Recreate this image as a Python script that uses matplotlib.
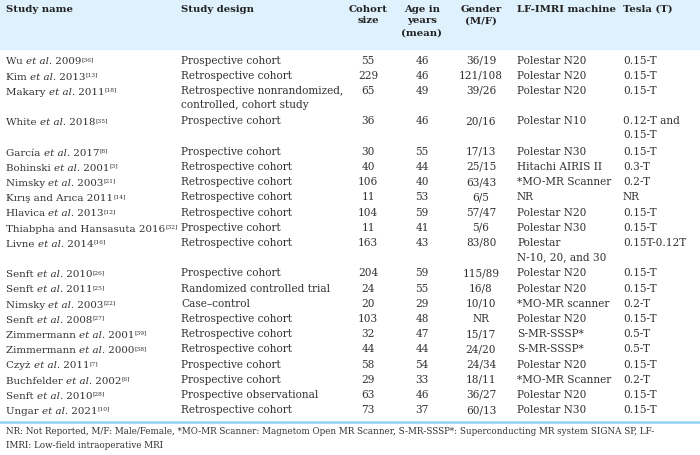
import matplotlib
matplotlib.use("Agg")
import matplotlib.pyplot as plt
from matplotlib.patches import Rectangle

plt.rcParams["font.family"] = ["DejaVu Serif"]

headers = ["Study name", "Study design", "Cohort\nsize", "Age in\nyears\n(mean)",
           "Gender\n(M/F)", "LF-IMRI machine", "Tesla (T)"]

study_names = [
    "Wu et al. 2009", "Kim et al. 2013", "Makary et al. 2011", "White et al. 2018",
    "García et al. 2017", "Bohinski et al. 2001", "Nimsky et al. 2003", "Kırış and Arıca 2011",
    "Hlavica et al. 2013", "Thiabpha and Hansasuta 2016", "Livne et al. 2014", "Senft et al. 2010",
    "Senft et al. 2011", "Nimsky et al. 2003", "Senft et al. 2008", "Zimmermann et al. 2001",
    "Zimmermann et al. 2000", "Czyż et al. 2011", "Buchfelder et al. 2002", "Senft et al. 2010",
    "Ungar et al. 2021",
]
refs = ["[36]", "[13]", "[18]", "[35]", "[8]", "[3]", "[21]", "[14]", "[12]", "[32]", "[16]",
        "[26]", "[25]", "[22]", "[27]", "[39]", "[38]", "[7]", "[6]", "[28]", "[10]"]
designs = [
    "Prospective cohort", "Retrospective cohort",
    "Retrospective nonrandomized,\ncontrolled, cohort study",
    "Prospective cohort", "Prospective cohort", "Retrospective cohort", "Retrospective cohort",
    "Retrospective cohort", "Retrospective cohort", "Prospective cohort", "Retrospective cohort",
    "Prospective cohort", "Randomized controlled trial", "Case\u2013control", "Retrospective cohort",
    "Retrospective cohort", "Retrospective cohort", "Prospective cohort", "Prospective cohort",
    "Prospective observational", "Retrospective cohort",
]
cohort = ["55", "229", "65", "36", "30", "40", "106", "11", "104", "11", "163", "204", "24",
          "20", "103", "32", "44", "58", "29", "63", "73"]
age = ["46", "46", "49", "46", "55", "44", "40", "53", "59", "41", "43", "59", "55", "29",
       "48", "47", "44", "54", "33", "46", "37"]
gender = ["36/19", "121/108", "39/26", "20/16", "17/13", "25/15", "63/43", "6/5", "57/47",
          "5/6", "83/80", "115/89", "16/8", "10/10", "NR", "15/17", "24/20", "24/34", "18/11",
          "36/27", "60/13"]
machine = ["Polestar N20", "Polestar N20", "Polestar N20", "Polestar N10", "Polestar N30",
           "Hitachi AIRIS II", "*MO-MR Scanner", "NR", "Polestar N20", "Polestar N30",
           "Polestar\nN-10, 20, and 30", "Polestar N20", "Polestar N20", "*MO-MR scanner",
           "Polestar N20", "S-MR-SSSP*", "S-MR-SSSP*", "Polestar N20", "*MO-MR Scanner",
           "Polestar N20", "Polestar N30"]
tesla = ["0.15-T", "0.15-T", "0.15-T", "0.12-T and\n0.15-T", "0.15-T", "0.3-T", "0.2-T", "NR",
         "0.15-T", "0.15-T", "0.15T-0.12T", "0.15-T", "0.15-T", "0.2-T", "0.15-T", "0.5-T",
         "0.5-T", "0.15-T", "0.2-T", "0.15-T", "0.15-T"]

footnote = ("NR: Not Reported, M/F: Male/Female, *MO-MR Scanner: Magnetom Open MR Scanner, "
            "S-MR-SSSP*: Superconducting MR system SIGNA SP, LF-\nIMRI: Low-field intraoperative MRI")

fig = plt.figure(figsize=(7, 4.55), dpi=100)
ax = fig.add_axes([0, 0, 1, 1])
ax.set_xlim(0, 700)
ax.set_ylim(455, 0)
ax.axis("off")

txt = "#333333"
fs = 7.6
fs_name = 7.4
ax.add_patch(Rectangle((0, 0), 700, 49, color="#dff1fc", zorder=0))
ax.plot([0, 700], [422, 422], color="#8fd3f3", lw=1.8)

# columns: (x, alignment)
cols = [(6, "left"), (181, "left"), (368, "center"), (422, "center"), (481, "center"),
        (517, "left"), (623, "left")]

for (x, ha), h in zip(cols, headers):
    ax.text(x, 4.5, h, ha=ha, va="top", fontsize=7.3, fontweight="bold", color="#222222",
            linespacing=1.4, multialignment="center")


def name_cell(x, y, name, ref):
    # regular / italic "et al." / regular, then the reference as a superscript
    if " et al. " in name:
        a, b = name.split(" et al. ")
        parts = [(a + " ", "normal"), ("et al.", "italic"), (" " + b, "normal")]
    else:
        parts = [(name, "normal")]
    prev = ax.text(x, y, parts[0][0], ha="left", va="baseline", fontsize=fs_name, color=txt)
    for s, style in parts[1:]:
        prev = ax.annotate(s, xy=(1, 0), xycoords=prev, ha="left", va="bottom",
                           fontsize=fs_name, color=txt, style=style)
    ax.annotate(ref, xy=(1, 1), xycoords=prev, xytext=(0, 0.2), textcoords="offset points",
                ha="left", va="top", fontsize=fs_name * 0.58, color=txt)


data = [designs, cohort, age, gender, machine, tesla]
line_h = 15.2
y0 = 62
line = 0
for i in range(len(study_names)):
    nlines = max(len(col[i].split("\n")) for col in data)
    y = y0 + line * line_h
    name_cell(6, y + 2.5, study_names[i], refs[i])
    for (x, ha), col in zip(cols[1:], data):
        ax.text(x, y - 6.5, col[i], ha=ha, va="top", fontsize=fs, color=txt,
                linespacing=1.5)
    line += nlines

ax.text(6, 427.5, footnote, ha="left", va="top", fontsize=6.3, color=txt, linespacing=1.7)

fig.savefig("out.png", dpi=100)
